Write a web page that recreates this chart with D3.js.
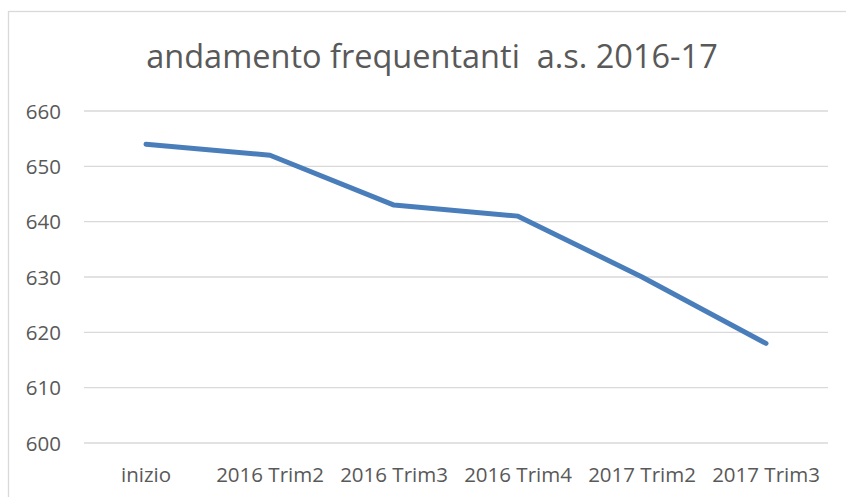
<!DOCTYPE html>
<html>
<head>
<meta charset="utf-8">
<script src="https://cdn.jsdelivr.net/npm/d3@7"></script>
<style>
  body { margin: 0; background: #fff; }
  svg { display: block; }
  svg text { font-family: "Open Sans", "Noto Sans", sans-serif; }
  .grid line { stroke: #d9d9d9; stroke-width: 1.3px; }
  .tick text { fill: #595959; font-size: 20.5px; }
</style>
</head>
<body>
<script>
// data
const categories = ['inizio', '2016 Trim2', '2016 Trim3', '2016 Trim4', '2017 Trim2', '2017 Trim3']
const values = [654, 652, 643, 641, 630, 618]
const yTicks = [600, 610, 620, 630, 640, 650, 660]
const title = 'andamento frequentanti\u00a0 a.s. 2016-17'

const width = 846
const height = 497
const margin = { top: 111, right: 18, bottom: 54, left: 84 }

const svg = d3.select('body').append('svg')
  .attr('width', width)
  .attr('height', height)

// chart frame (cut off on right and bottom)
svg.append('rect')
  .attr('x', 8.5).attr('y', 11.5)
  .attr('width', 860).attr('height', 520)
  .attr('fill', 'none')
  .attr('stroke', '#d9d9d9')
  .attr('stroke-width', 1.3)

svg.append('text')
  .attr('x', 432)
  .attr('y', 68)
  .attr('text-anchor', 'middle')
  .attr('fill', '#595959')
  .style('font-size', '32.5px')
  .text(title)

const x = d3.scaleBand()
  .domain(categories)
  .range([margin.left, width - margin.right])

const y = d3.scaleLinear()
  .domain([600, 660])
  .range([height - margin.bottom, margin.top])

// gridlines
svg.append('g')
  .attr('class', 'grid')
  .selectAll('line')
  .data(yTicks)
  .enter().append('line')
    .attr('x1', margin.left)
    .attr('x2', width - margin.right)
    .attr('y1', d => y(d))
    .attr('y2', d => y(d))

// y axis
const yAxis = svg.append('g')
  .attr('transform', `translate(${margin.left - 23},0)`)
  .call(d3.axisLeft(y).tickValues(yTicks).tickSize(0).tickPadding(0))
yAxis.select('.domain').remove()
yAxis.selectAll('.tick text').attr('dy', '0.35em')

// x axis
const xAxis = svg.append('g')
  .attr('transform', `translate(0,${height - margin.bottom})`)
  .call(d3.axisBottom(x).tickSize(0).tickPadding(24))
xAxis.select('.domain').remove()

const line = d3.line()
  .x((d, i) => x(categories[i]) + x.bandwidth() / 2)
  .y(d => y(d))

svg.append('path')
  .datum(values)
  .attr('fill', 'none')
  .attr('stroke', '#4a7ebb')
  .attr('stroke-width', 5)
  .attr('stroke-linejoin', 'round')
  .attr('stroke-linecap', 'round')
  .attr('d', line)
</script>
</body>
</html>
